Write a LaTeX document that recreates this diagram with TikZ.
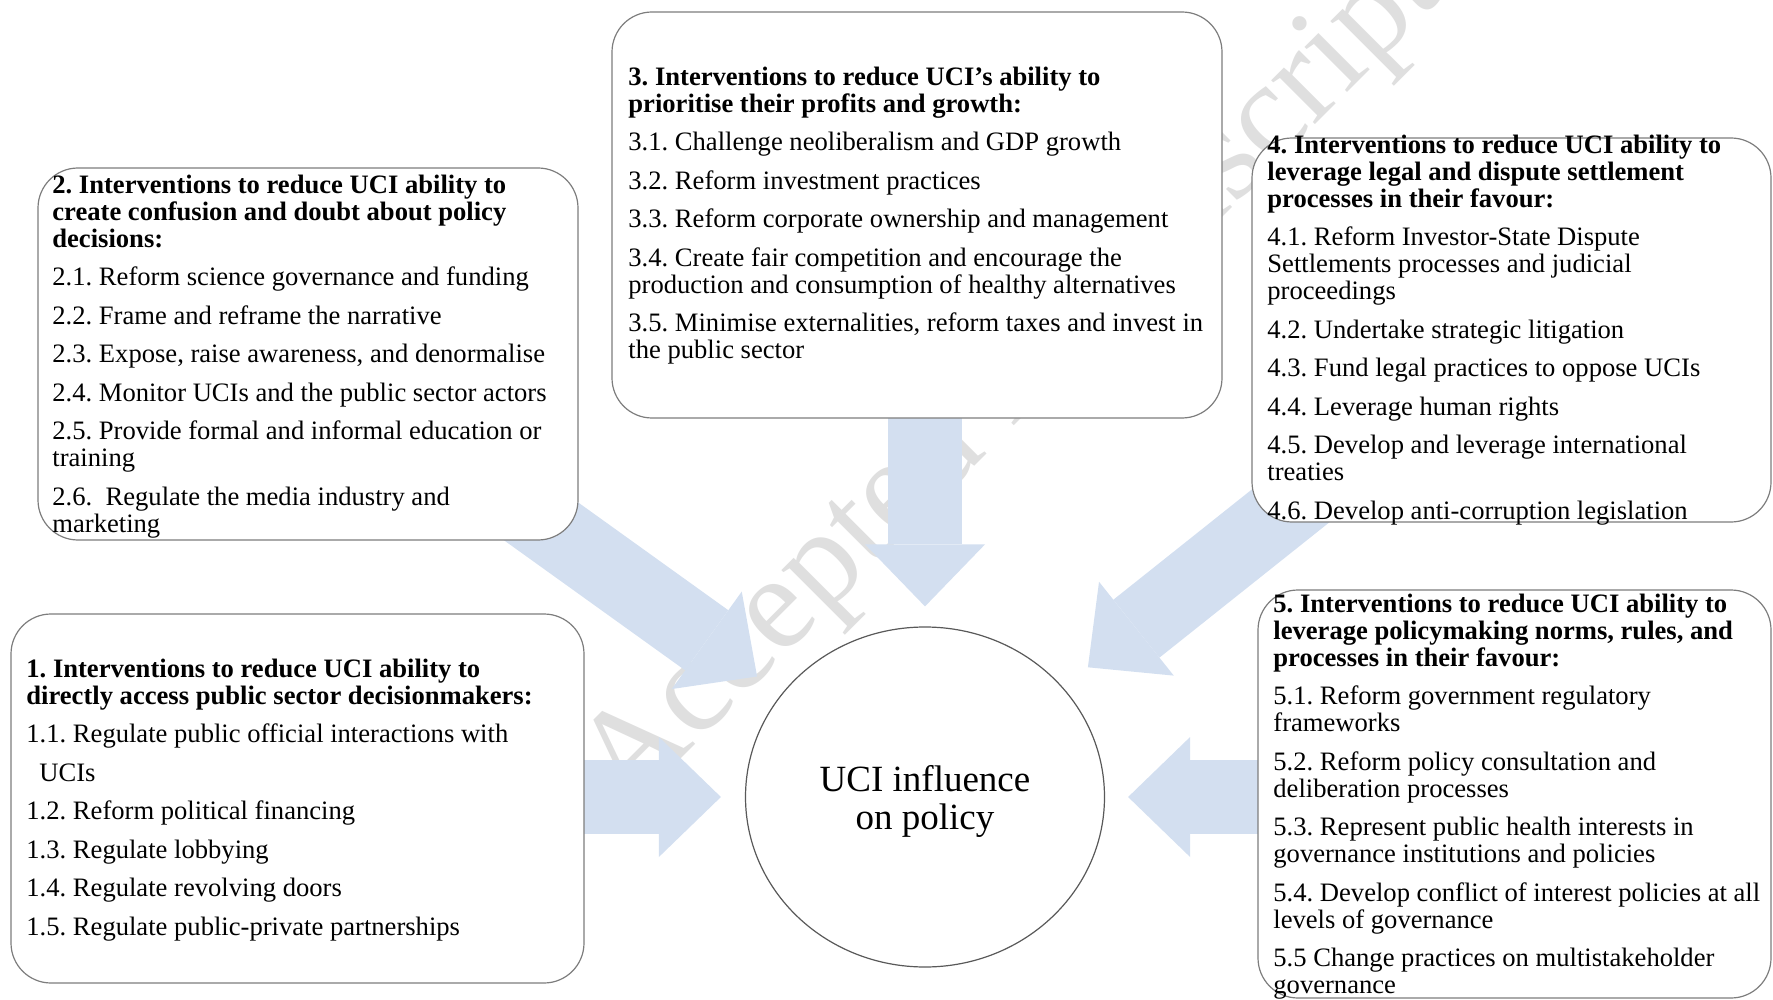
\documentclass[tikz,border=0pt]{standalone}
\usepackage{fontspec}
\setmainfont{Liberation Serif}
\usetikzlibrary{positioning,shapes.geometric,arrows.meta}
\pgfdeclarelayer{bg}
\pgfsetlayers{bg,main}
\definecolor{arrowblue}{RGB}{211,223,240}
\definecolor{boxgray}{RGB}{125,125,125}
\frenchspacing

\begin{document}
\begin{tikzpicture}[x=0.5pt, y=-0.5pt,
    box/.style={draw=boxgray, line width=0.6pt, rounded corners=20pt, fill=white, inner sep=0pt},
    txt/.style={anchor=north west, yshift=9.45pt, inner sep=0pt, align=left, font=\fontsize{13.3}{13.5}\selectfont},
    blockarr/.style={draw=arrowblue, line width=37pt, -{Triangle[width=60pt, length=31pt, line width=0pt]}},
    wmark/.style={text=gray!25, inner sep=0pt, font=\fontsize{67.5}{70}\selectfont}]
      \useasboundingbox (0,0) rectangle (1773,1000);
      \node[box, minimum width=286.5pt, minimum height=184.5pt] (b1) at (297.5,798.5) {};
      \node[box, minimum width=270pt, minimum height=186pt] (b2) at (308,354) {};
      \node[box, minimum width=305pt, minimum height=203pt] (b3) at (917,215) {};
      \node[box, minimum width=259.5pt, minimum height=192pt] (b4) at (1511.5,330) {};
      \node[box, minimum width=256.5pt, minimum height=204pt] (b5) at (1514.5,794) {};
      \node[ellipse, draw=black!65, line width=0.6pt, fill=white, inner sep=0pt, align=center,
            minimum width=179.5pt, minimum height=170pt, font=\fontsize{18.5}{19}\selectfont]
            (uci) at (925,797) {\rule{0pt}{17.6pt}UCI influence\\on policy};
      \begin{pgfonlayer}{bg}
      \node[wmark, rotate=45, anchor=base west] (wm) at (627,813) {Accepted Manuscript};
      \draw[blockarr, shorten >=10pt] (uci |- b3) -- (uci);
      \draw[blockarr, shorten >=15pt] (b2.center) -- (uci);
      \draw[blockarr, shorten >=16pt] (b4.center) -- (uci);
      \draw[blockarr, shorten >=12pt] (uci -| b1) -- (uci);
      \draw[blockarr, shorten >=11.5pt] (uci -| b5) -- (uci);
      \end{pgfonlayer}
      \node[txt] (t1) at (26,677) {\strut\textbf{1. Interventions to reduce UCI ability to}\\
            \textbf{directly access public sector decisionmakers:}\\[5.75pt]
            1.1. Regulate public official interactions with\\[5.75pt]
            \hspace*{6.5pt}UCIs\\[5.75pt]
            1.2. Reform political financing\\[5.75pt]
            1.3. Regulate lobbying\\[5.75pt]
            1.4. Regulate revolving doors\\[5.75pt]
            1.5. Regulate public-private partnerships};
      \node[txt] (t2) at (52,193) {\strut\textbf{2. Interventions to reduce UCI ability to}\\
            \textbf{create confusion and doubt about policy}\\
            \textbf{decisions:}\\[5.75pt]
            2.1. Reform science governance and funding\\[5.75pt]
            2.2. Frame and reframe the narrative\\[5.75pt]
            2.3. Expose, raise awareness, and denormalise\\[5.75pt]
            2.4. Monitor UCIs and the public sector actors\\[5.75pt]
            2.5. Provide formal and informal education or\\
            training\\[5.75pt]
            2.6.\ \ Regulate the media industry and\\
            marketing};
      \node[txt] (t3) at (628,85) {\strut\textbf{3. Interventions to reduce UCI’s ability to}\\
            \textbf{prioritise their profits and growth:}\\[5.75pt]
            3.1. Challenge neoliberalism and GDP growth\\[5.75pt]
            3.2. Reform investment practices\\[5.75pt]
            3.3. Reform corporate ownership and management\\[5.75pt]
            3.4. Create fair competition and encourage the\\
            production and consumption of healthy alternatives\\[5.75pt]
            3.5. Minimise externalities, reform taxes and invest in\\
            the public sector};
      \node[txt] (t4) at (1267,153) {\strut\textbf{4. Interventions to reduce UCI ability to}\\
            \textbf{leverage legal and dispute settlement}\\
            \textbf{processes in their favour:}\\[5.75pt]
            4.1. Reform Investor-State Dispute\\
            Settlements processes and judicial\\
            proceedings\\[5.75pt]
            4.2. Undertake strategic litigation\\[5.75pt]
            4.3. Fund legal practices to oppose UCIs\\[5.75pt]
            4.4. Leverage human rights\\[5.75pt]
            4.5. Develop and leverage international\\
            treaties\\[5.75pt]
            4.6. Develop anti-corruption legislation};
      \node[txt] (t5) at (1273,612) {\strut\textbf{5. Interventions to reduce UCI ability to}\\
            \textbf{leverage policymaking norms, rules, and}\\
            \textbf{processes in their favour:}\\[5.75pt]
            5.1. Reform government regulatory\\
            frameworks\\[5.75pt]
            5.2. Reform policy consultation and\\
            deliberation processes\\[5.75pt]
            5.3. Represent public health interests in\\
            governance institutions and policies\\[5.75pt]
            5.4. Develop conflict of interest policies at all\\
            levels of governance\\[5.75pt]
            5.5 Change practices on multistakeholder\\
            governance};
\end{tikzpicture}
\end{document}
